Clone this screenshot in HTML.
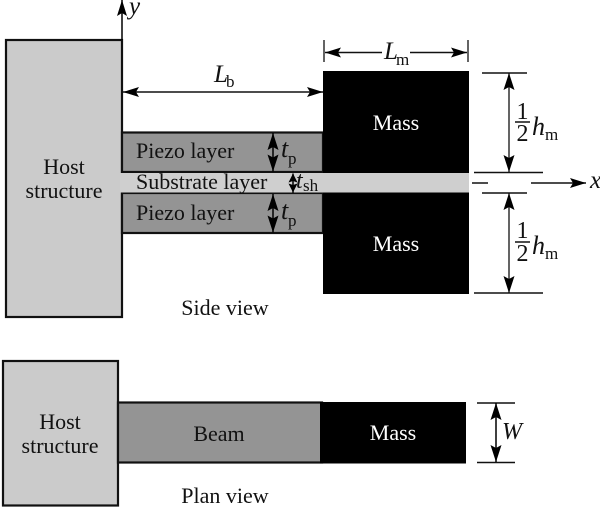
<!DOCTYPE html>
<html><head><meta charset="utf-8"><style>
html,body{margin:0;padding:0;background:#fff;width:600px;height:507px;overflow:hidden}
svg{display:block}
text{font-family:"Liberation Serif",serif;font-size:22px;fill:#111}
.i{font-style:italic}
.m{text-anchor:middle}
.s{font-size:17px}
.w{fill:#fff}
</style></head><body>
<svg width="600" height="507" viewBox="0 0 600 507" xmlns="http://www.w3.org/2000/svg">
<defs>
<marker id="a" viewBox="0 0 16 10" refX="16" refY="5" markerWidth="16" markerHeight="10" markerUnits="userSpaceOnUse" orient="auto-start-reverse"><path d="M0 0L16 5L0 10L3 5Z" fill="#000"/></marker>
<marker id="b" viewBox="0 0 17 11" refX="17" refY="5.500" markerWidth="17" markerHeight="11" markerUnits="userSpaceOnUse" orient="auto-start-reverse"><path d="M0 0L17 5.500L0 11L3 5.500Z" fill="#000"/></marker>
<marker id="c" viewBox="0 0 9 9" refX="9" refY="4.500" markerWidth="9" markerHeight="9" markerUnits="userSpaceOnUse" orient="auto-start-reverse"><path d="M0 0L9 4.500L0 9L1.500 4.500Z" fill="#000"/></marker>
</defs>

<!-- side view -->
<rect x="6" y="40" width="116" height="277" fill="#cbcbcb" stroke="#111" stroke-width="2.2"/>
<rect x="122" y="132.500" width="201" height="39.500" fill="#949494" stroke="#111" stroke-width="2.200"/>
<rect x="122" y="193" width="201" height="40" fill="#949494" stroke="#111" stroke-width="2.200"/>
<rect x="323" y="71" width="146" height="223" fill="#000"/>
<rect x="120" y="173" width="349" height="19.500" fill="#cfcfcf"/>

<line x1="122" y1="40" x2="122" y2="0" stroke="#000" stroke-width="1.500" marker-end="url(#a)"/>
<text x="129" y="14" class="i" style="font-size:25px">y</text>

<line x1="123" y1="92" x2="323" y2="92" stroke="#111" stroke-width="1.500" marker-start="url(#a)" marker-end="url(#a)"/>
<text x="214" y="82" class="i" style="font-size:25px">L</text><text x="226" y="87" class="s">b</text>

<line x1="324" y1="40" x2="324" y2="62" stroke="#111" stroke-width="1.300"/>
<line x1="468" y1="40" x2="468" y2="62" stroke="#111" stroke-width="1.300"/>
<line x1="382" y1="52.500" x2="325" y2="52.500" stroke="#111" stroke-width="1.500" marker-end="url(#a)"/>
<line x1="410" y1="52.500" x2="467" y2="52.500" stroke="#111" stroke-width="1.500" marker-end="url(#a)"/>
<text x="384" y="59" class="i" style="font-size:25px">L</text><text x="396" y="65" class="s">m</text>

<line x1="273" y1="133" x2="273" y2="171.500" stroke="#000" stroke-width="1.500" marker-start="url(#b)" marker-end="url(#b)"/>
<line x1="273" y1="194" x2="273" y2="232.500" stroke="#000" stroke-width="1.500" marker-start="url(#b)" marker-end="url(#b)"/>
<line x1="293" y1="173.500" x2="293" y2="192.500" stroke="#000" stroke-width="1.500" marker-start="url(#c)" marker-end="url(#c)"/>

<text x="136" y="158">Piezo layer</text>
<text x="136" y="220">Piezo layer</text>
<text x="136" y="189">Substrate layer</text>
<text x="281" y="157" class="i" style="font-size:26px">t</text><text x="288" y="164" class="s">p</text>
<text x="281" y="219" class="i" style="font-size:26px">t</text><text x="288" y="226" class="s">p</text>
<text x="296" y="188" class="i" style="font-size:24px">t</text><text x="303" y="191" class="s">sh</text>

<text x="64" y="174" class="m">Host</text>
<text x="64" y="198" class="m">structure</text>
<text x="396" y="130" class="m w">Mass</text>
<text x="396" y="251" class="m w">Mass</text>
<text x="225" y="315" class="m">Side view</text>

<!-- right dims -->
<g stroke="#111" stroke-width="1.500">
<line x1="482" y1="73" x2="527" y2="73"/>
<line x1="474" y1="172.500" x2="543" y2="172.500"/>
<line x1="482" y1="193" x2="527" y2="193"/>
<line x1="474" y1="293" x2="543" y2="293"/>
<line x1="472" y1="183" x2="488" y2="183"/>
<line x1="515" y1="122" x2="530" y2="122"/>
<line x1="515" y1="242" x2="530" y2="242"/>
</g>
<line x1="509" y1="73" x2="509" y2="172" stroke="#111" stroke-width="1.300" marker-start="url(#b)" marker-end="url(#b)"/>
<line x1="509" y1="193" x2="509" y2="293" stroke="#111" stroke-width="1.300" marker-start="url(#b)" marker-end="url(#b)"/>
<line x1="531" y1="183" x2="586" y2="183" stroke="#111" stroke-width="1.500" marker-end="url(#a)"/>
<text x="590" y="188" class="i" style="font-size:25px">x</text>

<text x="522.500" y="119" class="m" style="font-size:24px">1</text>
<text x="522.500" y="141" class="m" style="font-size:24px">2</text>
<text x="532" y="135" class="i" style="font-size:26px">h</text><text x="545" y="140" class="s">m</text>
<text x="522.500" y="238" class="m" style="font-size:24px">1</text>
<text x="522.500" y="261" class="m" style="font-size:24px">2</text>
<text x="532" y="254" class="i" style="font-size:26px">h</text><text x="545" y="259" class="s">m</text>

<!-- plan view -->
<rect x="3" y="361" width="115" height="144.500" fill="#cbcbcb" stroke="#111" stroke-width="2.200"/>
<rect x="118" y="402.500" width="204" height="60" fill="#949494" stroke="#111" stroke-width="2.200"/>
<rect x="320" y="402" width="146" height="61.500" fill="#000"/>
<text x="60" y="429" class="m">Host</text>
<text x="60" y="453" class="m">structure</text>
<text x="219" y="441" class="m">Beam</text>
<text x="393" y="440" class="m w">Mass</text>
<g stroke="#111" stroke-width="1.500">
<line x1="477" y1="403" x2="515" y2="403"/>
<line x1="477" y1="462.500" x2="515" y2="462.500"/>
</g>
<line x1="496" y1="403" x2="496" y2="462" stroke="#000" stroke-width="1.500" marker-start="url(#b)" marker-end="url(#b)"/>
<text x="502" y="439" class="i" style="font-size:24px">W</text>
<text x="225" y="503" class="m">Plan view</text>
</svg>
</body></html>
